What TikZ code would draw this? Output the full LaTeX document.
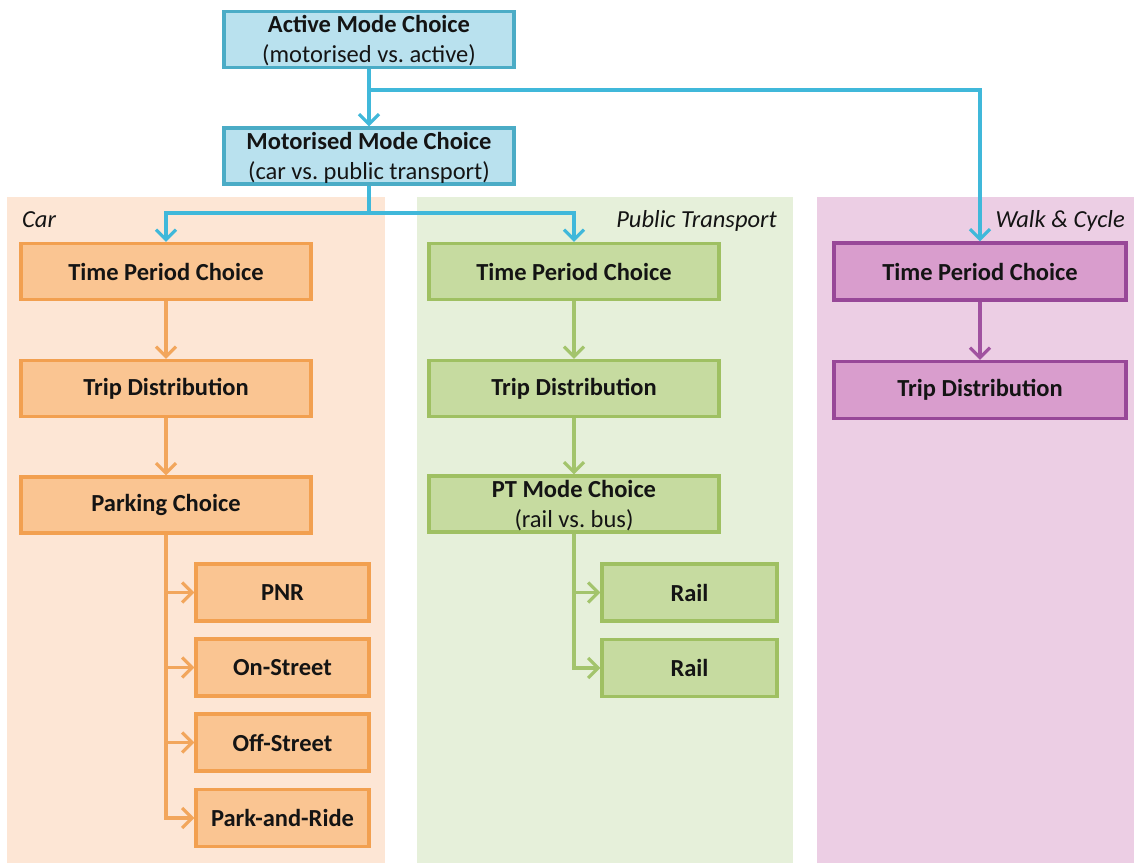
\documentclass[tikz,border=0pt]{standalone}
\usepackage{fontspec}
\setmainfont{Carlito}
\frenchspacing
\usetikzlibrary{arrows.meta}
\definecolor{bluefill}{HTML}{B9E1EE}
\definecolor{blueborder}{HTML}{4BACC6}
\definecolor{blueline}{HTML}{40B8DA}
\definecolor{carpanel}{HTML}{FDE6D5}
\definecolor{carfill}{HTML}{FAC592}
\definecolor{carborder}{HTML}{F2A050}
\definecolor{carline}{HTML}{F2A65C}
\definecolor{ptpanel}{HTML}{E6F0DA}
\definecolor{ptfill}{HTML}{C6DBA0}
\definecolor{ptborder}{HTML}{9FC062}
\definecolor{ptline}{HTML}{A3C46C}
\definecolor{wcpanel}{HTML}{ECCEE4}
\definecolor{wcfill}{HTML}{D99DCD}
\definecolor{wcborder}{HTML}{984898}
\definecolor{wcline}{HTML}{A052A0}
\definecolor{txt}{HTML}{141414}
\tikzset{
  basebox/.style={rectangle, line width=3.2pt, inner sep=0pt, align=center,
    text=txt, font=\fontsize{24.5}{30}\selectfont},
  twoline/.style={text depth=1pt},
  bluebox/.style={basebox, draw=blueborder, fill=bluefill, minimum width=290pt, minimum height=56pt},
  carbox/.style={basebox, draw=carborder, fill=carfill, minimum width=290pt, minimum height=56pt},
  carsub/.style={basebox, draw=carborder, fill=carfill, minimum width=173pt, minimum height=57pt},
  ptbox/.style={basebox, draw=ptborder, fill=ptfill, minimum width=290pt, minimum height=56pt},
  ptsub/.style={basebox, draw=ptborder, fill=ptfill, minimum width=175pt, minimum height=57pt},
  wcbox/.style={basebox, draw=wcborder, fill=wcfill, minimum width=292pt, minimum height=57pt},
  conn/.style={line width=3.2pt, -{Straight Barb[length=10pt,width=20pt]}},
  blueconn/.style={conn, draw=blueline},
  carconn/.style={conn, draw=carline},
  ptconn/.style={conn, draw=ptline},
  wcconn/.style={conn, draw=wcline},
  panellabel/.style={font=\fontsize{24.5}{28}\selectfont\itshape, text=txt, inner sep=0pt}
}
\begin{document}
\begin{tikzpicture}[x=1pt, y=-1pt]
\useasboundingbox (0,0) rectangle (1134,863);
\fill[white] (0,0) rectangle (1134,863);
% panels
\fill[carpanel] (7,197) rectangle (385,863);
\fill[ptpanel] (417,197) rectangle (793,863);
\fill[wcpanel] (817,197) rectangle (1134,863);
\node[panellabel, anchor=base west] (lcar) at (22,227) {Car};
\node[panellabel, anchor=base east] (lpt) at (777,227) {Public Transport};
\node[panellabel, anchor=base east] (lwc) at (1125,227) {Walk \& Cycle};
% top boxes
\node[bluebox, twoline] (active) at (369,39.5) {\textbf{Active Mode Choice}\\(motorised vs. active)};
\node[bluebox, twoline] (motor) at (369,156) {\textbf{Motorised Mode Choice}\\(car vs. public transport)};
% car
\node[carbox] (ctime) at (166,271.5) {\textbf{Time Period Choice}};
\node[carbox] (ctrip) at (166,388.5) {\textbf{Trip Distribution}};
\node[carbox] (cpark) at (166,505) {\textbf{Parking Choice}};
\node[carsub] (pnr) at (282.5,592.5) {\textbf{PNR}};
\node[carsub] (onst) at (282.5,667.5) {\textbf{On-Street}};
\node[carsub] (offst) at (282.5,742.5) {\textbf{Off-Street}};
\node[carsub] (pandr) at (282.5,818) {\textbf{Park-and-Ride}};
% pt
\node[ptbox] (pttime) at (574,271.5) {\textbf{Time Period Choice}};
\node[ptbox] (pttrip) at (574,388.5) {\textbf{Trip Distribution}};
\node[ptbox, twoline] (ptmode) at (574,504) {\textbf{PT Mode Choice}\\(rail vs. bus)};
\node[ptsub] (rail1) at (689.5,592.5) {\textbf{Rail}};
\node[ptsub] (rail2) at (689.5,668) {\textbf{Rail}};
% walk & cycle
\node[wcbox] (wctime) at (980,271.5) {\textbf{Time Period Choice}};
\node[wcbox] (wctrip) at (980,390) {\textbf{Trip Distribution}};
% connectors
\coordinate (j1) at (369,90);
\coordinate (j2) at (369,213);
\draw[blueconn] (active.south) -- (motor.north);
\draw[blueconn] (j1) -| (wctime.north);
\draw[blueconn] (motor.south) -- (j2) -| (ctime.north);
\draw[blueconn] (j2) -| (pttime.north);
\draw[carconn] (ctime) -- (ctrip);
\draw[carconn] (ctrip) -- (cpark);
\draw[carconn] (cpark.south) |- (pnr.west);
\draw[carconn] (cpark.south) |- (onst.west);
\draw[carconn] (cpark.south) |- (offst.west);
\draw[carconn] (cpark.south) |- (pandr.west);
\draw[ptconn] (pttime) -- (pttrip);
\draw[ptconn] (pttrip) -- (ptmode);
\draw[ptconn] (ptmode.south) |- (rail1.west);
\draw[ptconn] (ptmode.south) |- (rail2.west);
\draw[wcconn] (wctime) -- (wctrip);
\end{tikzpicture}
\end{document}
